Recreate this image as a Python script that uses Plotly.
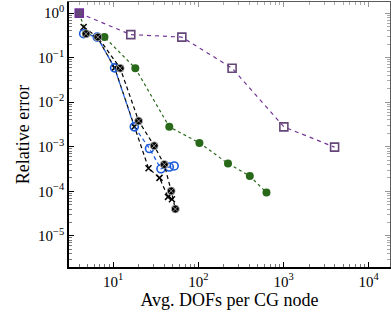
import numpy as np
import plotly.graph_objects as go

# Data
purple_x = [4.0, 16.1, 64, 249, 1010, 3980]
purple_y = [1.0, 0.33, 0.29, 0.058, 0.0028, 0.00098]

green_x = [4.0, 4.8, 7.9, 18.2, 45.6, 103, 223, 402, 631]
green_y = [1.0, 0.345, 0.29, 0.058, 0.0028, 0.00122, 0.00042, 0.00022, 0.000094]

blue_x = [4.5, 6.5, 10.4, 17.7, 26.7, 36.4, 45.6, 52]
blue_y = [0.345, 0.29, 0.059, 0.0028, 0.00091, 0.00032, 0.00035, 0.00037]

cross_x = [4.5, 6.5, 10.4, 17.7, 26, 35, 44, 49]
cross_y = [0.49, 0.29, 0.059, 0.0028, 0.00033, 0.0002, 0.000075, 0.000066]

star_x = [4.8, 6.6, 12.1, 19.9, 30.3, 39.8, 48, 53.7]
star_y = [0.345, 0.29, 0.058, 0.0038, 0.00105, 0.0004, 0.000102, 0.00004]

xtick_vals = [10, 100, 1000, 10000]
xtick_text = ["10<sup>1</sup>", "10<sup>2</sup>", "10<sup>3</sup>", "10<sup>4</sup>"]
ytick_vals = [1, 0.1, 0.01, 0.001, 0.0001, 0.00001]
ytick_text = ["10<sup>0</sup>", "10<sup>\u22121</sup>", "10<sup>\u22122</sup>",
              "10<sup>\u22123</sup>", "10<sup>\u22124</sup>", "10<sup>\u22125</sup>"]

PURPLE = "rgb(112,52,150)"
GREEN = "rgb(40,105,25)"
BLUE = "rgb(25,90,220)"

fig = go.Figure()
fig.add_trace(go.Scatter(x=green_x, y=green_y, mode="lines+markers",
    line=dict(color=GREEN, width=1.2, dash="3px,3px"),
    marker=dict(symbol="circle", size=8, color=GREEN)))
fig.add_trace(go.Scatter(x=cross_x, y=cross_y, mode="lines+markers",
    line=dict(color="black", width=1.2, dash="4px,3px"),
    marker=dict(symbol="x-thin-open", size=6, color="black", line=dict(color="black", width=1.5))))
fig.add_trace(go.Scatter(x=blue_x, y=blue_y, mode="lines+markers",
    line=dict(color=BLUE, width=1.2, dash="4px,3px"),
    marker=dict(symbol="circle-open", size=8, color=BLUE, line=dict(color=BLUE, width=1.6))))
fig.add_trace(go.Scatter(x=star_x, y=star_y, mode="lines+markers",
    line=dict(color="black", width=1.2, dash="4px,3px"),
    marker=dict(symbol="circle-x", size=8, color="black",
                line=dict(color="rgba(200,200,200,0.9)", width=0.8))))
fig.add_trace(go.Scatter(x=purple_x, y=purple_y, mode="lines+markers",
    line=dict(color=PURPLE, width=1.2, dash="4px,4px"),
    marker=dict(symbol=["square"] + ["square-open"] * 5, size=8, color="rgb(100,70,120)",
                line=dict(color=PURPLE, width=1.6))))
# dummy trace for mirrored top/right axes
fig.add_trace(go.Scatter(x=[], y=[], xaxis="x2", yaxis="y2", showlegend=False))

xr = [np.log10(3.03), np.log10(17800)]
yr = [-5.70, 0.25]
font = dict(family="Liberation Serif, DejaVu Serif, serif", size=15, color="black")
tickfont = dict(family="Liberation Serif, DejaVu Serif, serif", size=15, color="black")

fig.update_layout(
    width=391, height=319,
    margin=dict(l=69, r=1, t=2, b=52),
    paper_bgcolor="white", plot_bgcolor="white",
    showlegend=False,
    font=font,
    xaxis=dict(type="log", range=xr, tickmode="array", tickvals=xtick_vals, ticktext=xtick_text,
               automargin=False, tickfont=tickfont,
               ticks="inside", ticklen=5, tickcolor="black", showgrid=False, zeroline=False,
               showline=True, linecolor="black", linewidth=1.5,
               minor=dict(ticks="inside", ticklen=3, tickcolor="rgb(120,120,120)", dtick="D1", showgrid=False),
               title=dict(text="Avg. DOFs per CG node", standoff=4)),
    yaxis=dict(type="log", range=yr, tickmode="array", tickvals=ytick_vals, ticktext=ytick_text,
               automargin=False, tickfont=tickfont,
               ticks="inside", ticklen=5, tickcolor="black", showgrid=False, zeroline=False,
               showline=True, linecolor="black", linewidth=1.5,
               minor=dict(ticks="inside", ticklen=3, tickcolor="rgb(120,120,120)", dtick="D1", showgrid=False),
               title=dict(text="Relative error", standoff=4)),
    xaxis2=dict(type="log", range=xr, overlaying="x", side="top", tickmode="array", tickvals=xtick_vals,
                automargin=False,
                showticklabels=False, ticks="inside", ticklen=5, tickcolor="rgb(150,150,150)",
                showgrid=False, zeroline=False, showline=True, linecolor="rgb(90,90,90)", linewidth=1,
                minor=dict(ticks="inside", ticklen=3, tickcolor="rgb(170,170,170)", dtick="D1", showgrid=False)),
    yaxis2=dict(type="log", range=yr, overlaying="y", side="right", tickmode="array", tickvals=ytick_vals,
                automargin=False,
                showticklabels=False, ticks="inside", ticklen=5, tickcolor="rgb(150,150,150)",
                showgrid=False, zeroline=False, showline=True, linecolor="rgb(90,90,90)", linewidth=1,
                minor=dict(ticks="inside", ticklen=3, tickcolor="rgb(170,170,170)", dtick="D1", showgrid=False)),
)
fig.write_html("out.html", config={"displayModeBar": False},
               post_script="document.body.style.margin='0';document.body.style.overflow='hidden';")
